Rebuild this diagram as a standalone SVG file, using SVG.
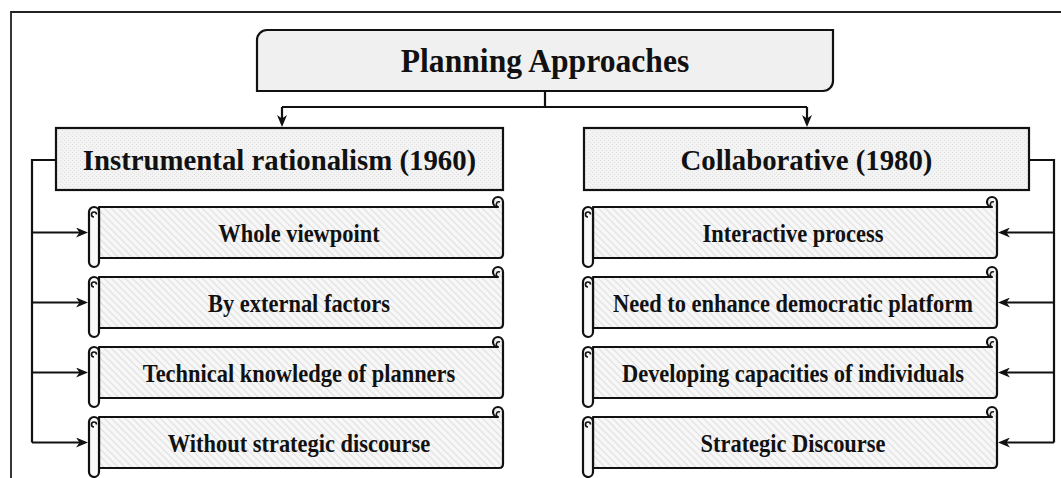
<svg xmlns="http://www.w3.org/2000/svg" xmlns:xlink="http://www.w3.org/1999/xlink" width="1061" height="478" viewBox="0 0 1061 478">
<style>
.t{font-family:"Liberation Serif","Times New Roman",serif;font-weight:bold;fill:#111;text-anchor:middle}
.s{font-size:25.5px}
.ln{fill:none;stroke:#111;stroke-width:2.2}
.box{stroke:#111;stroke-width:2.2}
.scr{stroke:#111;stroke-width:2.2;stroke-linejoin:round}
</style>
<defs>
<pattern id="dots" width="4" height="4" patternUnits="userSpaceOnUse">
<rect width="4" height="4" fill="#f3f3f3"/>
<rect width="1" height="1" fill="#e0e0e0"/>
<rect x="2" y="2" width="1" height="1" fill="#e0e0e0"/>
</pattern>
<pattern id="hatch" width="7" height="7" patternUnits="userSpaceOnUse">
<rect width="7" height="7" fill="#f7f7f7"/>
<path d="M0,0 L7,7 M-1,6 L1,8 M6,-1 L8,1" stroke="#e1e1e1" stroke-width="1.2"/>
</pattern>
<marker id="ah" viewBox="0 0 12 10" markerWidth="12" markerHeight="10" refX="9" refY="5" orient="auto" markerUnits="userSpaceOnUse">
<path d="M0,0 L12,5 L0,10 L3.5,5 Z" fill="#111"/>
</marker>
<g id="scroll">
<path class="scr" fill="url(#hatch)" d="M10,0 H409 A5,5 0 1 1 414,-5 V47 Q414,51 410,51 H10 Z"/>
<path fill="none" stroke="#111" stroke-width="1.6" d="M409,0 A2.5,2.5 0 1 1 411,-5"/>
<path class="scr" fill="#fafafa" d="M0,5 A5,5 0 0 1 10,5 V55 A5,5 0 0 1 0,55 Z"/>
<path fill="none" stroke="#111" stroke-width="1.6" d="M5,10 A2.5,2.5 0 1 1 7.5,7.5"/>
</g>
</defs>
<rect width="1061" height="478" fill="#ffffff"/>
<path d="M11,478 V12 H1061" fill="none" stroke="#222" stroke-width="1.8"/>

<g id="connectors">
<path class="ln" d="M545,91 V107 M282,107 H807"/>
<path class="ln" d="M282,107 V124" marker-end="url(#ah)"/>
<path class="ln" d="M807,107 V124" marker-end="url(#ah)"/>
<path class="ln" d="M56,160 H32 V442.5"/>
<path class="ln" d="M32,232.5 H85" marker-end="url(#ah)"/>
<path class="ln" d="M32,302.5 H85" marker-end="url(#ah)"/>
<path class="ln" d="M32,372.5 H85" marker-end="url(#ah)"/>
<path class="ln" d="M32,442.5 H85" marker-end="url(#ah)"/>
<path class="ln" d="M1029,160 H1054 V442.5"/>
<path class="ln" d="M1054,232.5 H1001" marker-end="url(#ah)"/>
<path class="ln" d="M1054,302.5 H1001" marker-end="url(#ah)"/>
<path class="ln" d="M1054,372.5 H1001" marker-end="url(#ah)"/>
<path class="ln" d="M1054,442.5 H1001" marker-end="url(#ah)"/>
</g>

<g id="title">
<path class="box" fill="#f0f0f0" d="M267,30 H833 V81 A10,10 0 0 1 823,91 H257 V40 A10,10 0 0 1 267,30 Z"/>
<text class="t" font-size="34" transform="translate(545,72) scale(0.93,1)">Planning Approaches</text>
</g>

<g id="instrumental">
<rect class="box" x="56" y="128" width="447" height="62" fill="url(#dots)"/>
<text class="t" font-size="30" transform="translate(279.5,170) scale(0.96,1)">Instrumental rationalism (1960)</text>
</g>
<g id="collaborative">
<rect class="box" x="584" y="128" width="445" height="62" fill="url(#dots)"/>
<text class="t" font-size="30" transform="translate(806.5,170) scale(0.96,1)">Collaborative (1980)</text>
</g>

<g id="l1"><use xlink:href="#scroll" transform="translate(89,207)"/><text class="t s" transform="translate(299,241.5) scale(0.88,1)">Whole viewpoint</text></g>
<g id="l2"><use xlink:href="#scroll" transform="translate(89,277)"/><text class="t s" transform="translate(299,311.5) scale(0.88,1)">By external factors</text></g>
<g id="l3"><use xlink:href="#scroll" transform="translate(89,347)"/><text class="t s" transform="translate(299,381.5) scale(0.88,1)">Technical knowledge of planners</text></g>
<g id="l4"><use xlink:href="#scroll" transform="translate(89,417)"/><text class="t s" transform="translate(299,451.5) scale(0.88,1)">Without strategic discourse</text></g>

<g id="r1"><use xlink:href="#scroll" transform="translate(583,207)"/><text class="t s" transform="translate(793,241.5) scale(0.88,1)">Interactive process</text></g>
<g id="r2"><use xlink:href="#scroll" transform="translate(583,277)"/><text class="t s" transform="translate(793,311.5) scale(0.88,1)">Need to enhance democratic platform</text></g>
<g id="r3"><use xlink:href="#scroll" transform="translate(583,347)"/><text class="t s" transform="translate(793,381.5) scale(0.88,1)">Developing capacities of individuals</text></g>
<g id="r4"><use xlink:href="#scroll" transform="translate(583,417)"/><text class="t s" transform="translate(793,451.5) scale(0.88,1)">Strategic Discourse</text></g>
</svg>
